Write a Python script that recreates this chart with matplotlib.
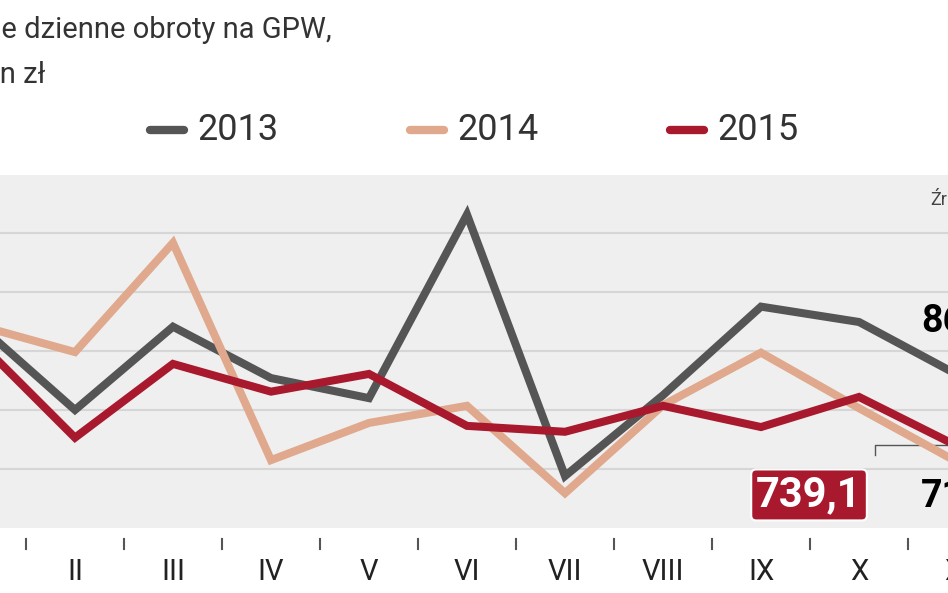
import matplotlib.pyplot as plt

months = ["I", "II", "III", "IV", "V", "VI", "VII", "VIII", "IX", "X", "XI"]
v2013 = [947, 800, 941, 854, 820, 1131, 688, 825, 975, 949, 860]
v2014 = [944, 898, 1083, 715, 778, 807, 659, 808, 897, 803, 712]
v2015 = [919, 753, 878, 831, 861, 773, 763, 807, 771, 822, 739.1]
grid_vals = [700, 800, 900, 1000, 1100]

plt.rcParams["font.family"] = "Roboto"
W, H = 948, 593
fig = plt.figure(figsize=(W / 100, H / 100), dpi=100)
ax = fig.add_axes([0, 1 - 528 / H, 1, 353 / H])
ax.set_facecolor("#efefef")
x = list(range(len(months)))
for vals, col, lab in [(v2013, "#555555", "2013"), (v2014, "#e0a88c", "2014"),
                       (v2015, "#a8192e", "2015")]:
    ax.plot(x, vals, color=col, lw=5.8, solid_joinstyle="miter", label=lab, zorder=3)
for g in grid_vals:
    ax.axhline(g, color="#d6d6d6", lw=1.5, zorder=1)
ax.set_xlim(0.235, 9.908)
ax.set_ylim(600, 1198)
ax.set_xticks([])
ax.set_yticks([])
for s in ax.spines.values():
    s.set_visible(False)

# month labels and small ticks below the axes
xt = ax.get_xaxis_transform()
for i, m in enumerate(months):
    ax.text(i, (528 - 572) / 353, m, transform=xt, fontsize=21,
            ha="center", va="center", color="#222222", clip_on=False)
    ax.plot([i - 0.5, i - 0.5], [-0.03, -0.06], transform=xt,
            color="#555555", lw=1.5, clip_on=False)

# annotations
ax.text(9.63, 949, "86", fontsize=27, fontweight="bold", ha="left", va="center", zorder=6)
ax.text(9.63, 653, "71", fontsize=27, fontweight="bold", ha="left", va="center", zorder=6)
ax.text(8.49, 656, "739,1", fontsize=30, fontweight="bold", color="white",
        ha="center", va="center", zorder=5,
        bbox=dict(boxstyle="round,pad=0.12", fc="#a8192e", ec="white", lw=1.5))
ax.plot([9.16, 9.16, 9.908], [724, 741, 741], color="#555555", lw=1, zorder=2)
ax.text(-0.09, 0.065, "600", transform=ax.transAxes, fontsize=21, ha="left", va="center")
ax.text(9.73, 1155, "Źr", fontsize=13, color="#444444", ha="left", va="center")

# title
fig.text(-0.085, 1 - 28 / H, "Średnie dzienne obroty na GPW,", fontsize=21, color="#333333",
         va="center", ha="left")
fig.text(-0.035, 1 - 75 / H, "mln zł", fontsize=21, color="#333333", va="center", ha="left")

# legend
for xs, lab, col in [(150, "2013", "#555555"), (410, "2014", "#e0a88c"), (670, "2015", "#a8192e")]:
    fig.add_artist(plt.Line2D([xs / W, (xs + 34) / W], [1 - 130 / H] * 2, color=col,
                              lw=6, solid_capstyle="round"))
    fig.text((xs + 47) / W, 1 - 130 / H, lab, fontsize=26, color="#333333", va="center")

fig.savefig("out.png", dpi=100)
